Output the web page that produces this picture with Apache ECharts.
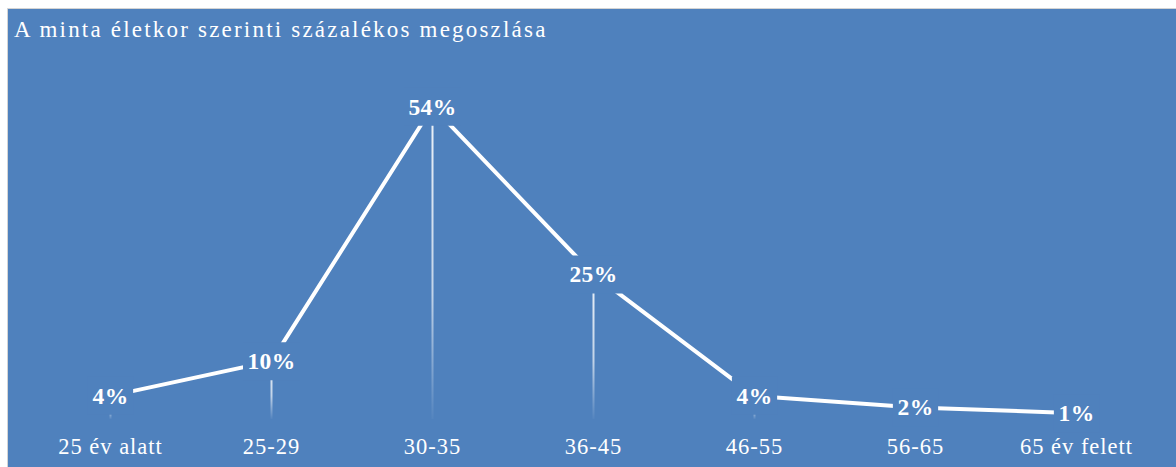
<!DOCTYPE html>
<html>
<head>
<meta charset="utf-8">
<title>A minta életkor szerinti százalékos megoszlása</title>
<script src="https://cdn.jsdelivr.net/npm/echarts@6/dist/echarts.min.js"></script>
<style>
  html, body { margin: 0; padding: 0; background: #ffffff; }
  #chart { width: 1176px; height: 467px; }
  /* spaced lettering: title (23px), axis labels (22.5px), value labels (bold) */
  #chart svg text[style*="23px"] { letter-spacing: 2.2px; }
  #chart svg text[style*="22.5px"] { letter-spacing: 1px; }
  #chart svg text[style*="bold"] { letter-spacing: 0.3px; }
</style>
</head>
<body>
<div id="chart"></div>
<script>
// Age groups and share of the sample (%)
const ageGroups = ['25 év alatt', '25-29', '30-35', '36-45', '46-55', '56-65', '65 év felett'];
const sharePercent = [4, 10, 54, 25, 4, 2, 1];
const chartTitle = 'A minta életkor szerinti százalékos megoszlása';

const panelBlue = '#4f81bd';
const serif = '"Liberation Serif", "Times New Roman", serif';

const chart = echarts.init(document.getElementById('chart'), null, { renderer: 'svg' });

chart.setOption({
  backgroundColor: '#ffffff',
  animation: false,
  graphic: [{
    type: 'rect',
    z: -10,
    silent: true,
    shape: { x: 7.5, y: 8.5, width: 1180, height: 470 },
    style: { fill: panelBlue, stroke: '#d4d4d4', lineWidth: 1 }
  }],
  title: {
    text: chartTitle,
    left: 14,
    top: 18,
    padding: 0,
    textStyle: { color: '#ffffff', fontFamily: serif, fontSize: 23, fontWeight: 'normal' }
  },
  grid: { left: 30, right: 19, top: 72, bottom: 48 },
  xAxis: {
    type: 'category',
    data: ageGroups,
    boundaryGap: true,
    axisLine: { show: false },
    axisTick: { show: false },
    axisLabel: { color: '#ffffff', fontFamily: serif, fontSize: 22.5, margin: 16, interval: 0 }
  },
  yAxis: {
    type: 'value',
    min: 0,
    max: 60,
    show: false,
    splitLine: { show: false }
  },
  series: [
    {
      // drop lines from each point to the baseline
      type: 'bar',
      data: sharePercent,
      barWidth: 2,
      silent: true,
      itemStyle: {
        color: new echarts.graphic.LinearGradient(0, 0, 0, 1, [
          { offset: 0, color: 'rgba(255,255,255,0.9)' },
          { offset: 0.6, color: 'rgba(255,255,255,0.65)' },
          { offset: 1, color: 'rgba(255,255,255,0.03)' }
        ])
      }
    },
    {
      type: 'line',
      data: sharePercent,
      symbol: 'circle',
      symbolSize: 1,
      itemStyle: { color: '#ffffff' },
      lineStyle: { color: '#ffffff', width: 4 },
      label: {
        show: true,
        position: 'inside',
        formatter: '{c}%',
        color: '#ffffff',
        fontFamily: serif,
        fontSize: 23.5,
        fontWeight: 'bold',
        backgroundColor: panelBlue,
        padding: [7, 5]
      }
    }
  ]
});
</script>
</body>
</html>
